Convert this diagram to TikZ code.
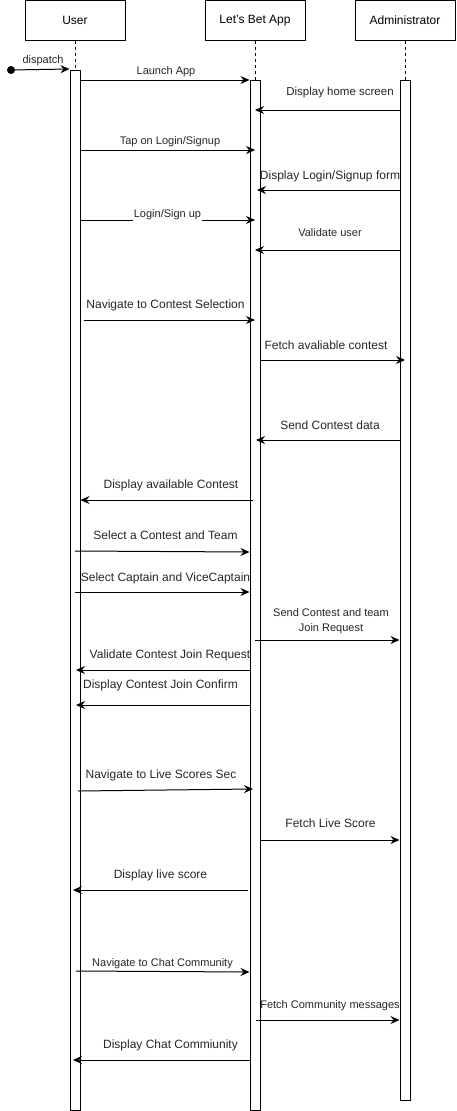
\documentclass[tikz,border=0pt]{standalone}
\usepackage{fontspec}
\setmainfont{Liberation Sans}
\usetikzlibrary{arrows.meta}

\begin{document}
\begin{tikzpicture}[
  x=1pt, y=-1pt, line width=1pt,
  actor/.style={draw, minimum width=100pt, minimum height=40pt, inner sep=0pt,
                font=\fontsize{12}{14}\selectfont},
  bar/.style={draw, fill=white, minimum width=10pt, inner sep=0pt},
  life/.style={dash pattern=on 3pt off 3pt},
  msg/.style={-{Stealth[length=9pt, width=8pt, inset=3pt]}},
  msgtext/.style={font=\fontsize{12}{14}\selectfont, inner sep=0pt, text=black!85},
  msgsmall/.style={font=\fontsize{11}{15.5}\selectfont, inner sep=0pt, align=center, text=black!85},
]
\useasboundingbox (0,0) rectangle (457,1111);

% Acteurs
\node[actor] (user)  at (75,20.5)  {User};
\node[actor] (app)   at (255,20.5) {Let's Bet App};
\node[actor] (admin) at (405,20.5) {Administrator};

% Barres d'activation
\node[bar, minimum height=1040pt] (ubar) at (75,590) {};
\node[bar, minimum height=1030pt] (abar) at (255,595) {};
\node[bar, minimum height=1020pt] (dbar) at (405,590) {};

% Lignes de vie
\draw[life] (user) -- (ubar);
\draw[life] (app)  -- (abar);
\draw[life] (admin) -- (dbar);

% Point de depart
\node[circle, fill, inner sep=0pt, minimum size=8pt] (start) at (11,70) {};
\draw[msg] (start.center) -- (ubar.west |- 0,69);

% Messages
\draw[msg] (ubar.east |- 0,80) -- (abar.west |- 0,80);
\draw[msg] (dbar.west |- 0,110) -- (abar.center |- 0,110);
\draw[msg] (ubar.east |- 0,150) -- (abar.center |- 0,150);
\draw[msg] (dbar.west |- 0,190) -- ([xshift=2pt]abar.center |- 0,190);
\draw[msg] (ubar.east |- 0,220) -- (abar.center |- 0,220);
\draw[msg] (dbar.west |- 0,250) -- (abar.center |- 0,250);
\draw[msg] ([xshift=3pt]ubar.east |- 0,320) -- (abar.center |- 0,320);
\draw[msg] (abar.east |- 0,360) -- (dbar.center |- 0,360);
\draw[msg] (dbar.west |- 0,440) -- ([xshift=1pt]abar.center |- 0,440);
\draw[msg] ([xshift=-2pt]abar.center |- 0,500) -- (ubar.east |- 0,500);
\draw[msg] (ubar.center |- 0,551) -- (abar.west |- 0,552);
\draw[msg] (ubar.center |- 0,592) -- (abar.west |- 0,592);
\draw[msg] (abar.center |- 0,640) -- (dbar.west |- 0,640);
\draw[msg] (abar.west |- 0,670) -- ([xshift=1pt]ubar.center |- 0,670);
\draw[msg] (abar.west |- 0,705) -- ([xshift=1pt]ubar.center |- 0,705);
\draw[msg] ([xshift=3pt]ubar.center |- 0,791) -- ([xshift=-2pt]abar.center |- 0,789);
\draw[msg] (abar.east |- 0,840) -- (dbar.west |- 0,840);
\draw[msg] ([xshift=-2pt]abar.west |- 0,890) -- ([xshift=-2pt]ubar.center |- 0,890);
\draw[msg] ([xshift=1pt]ubar.center |- 0,971) -- (abar.west |- 0,972);
\draw[msg] ([xshift=1pt]abar.center |- 0,1020) -- (dbar.west |- 0,1020);
\draw[msg] (abar.west |- 0,1060) -- ([xshift=-2pt]ubar.center |- 0,1060);

% Libelles
\node[msgsmall] (ldispatch) at (43,61)   {dispatch};
\node[msgsmall] (llaunch)   at (166,72)  {Launch App};
\node[msgsmall, font=\fontsize{11.5}{14}\selectfont] (lhome) at (340,93) {Display home screen};
\node[msgsmall] (ltap)      at (170,142) {Tap on Login/Signup};
\node[msgtext]  (lform)     at (330,176) {Display Login/Signup form};
\node[msgsmall, fill=white, inner ysep=1.5pt, inner xsep=0.5pt] (llogin) at (167.5,214.5) {Login/Sign up};
\node[msgsmall] (lvalid)    at (330,233) {Validate user};
\node[msgtext]  (lnavsel)   at (165.5,305) {Navigate to Contest Selection};
\node[msgtext]  (lfetch)    at (326,345) {Fetch avaliable contest};
\node[msgtext]  (lsend)     at (330,425) {Send Contest data};
\node[msgtext]  (lavail)    at (171,485) {Display available Contest};
\node[msgtext]  (lselteam)  at (165.5,535) {Select a Contest and Team};
\node[msgtext]  (lselcap)   at (165.5,578) {Select Captain and ViceCaptain};
\node[msgsmall] (ljoin)     at (331,621) {Send Contest and team\\Join Request};
\node[msgtext]  (lvaljoin)  at (170,655) {Validate Contest Join Request};
\node[msgtext]  (lconfirm)  at (160.5,685) {Display Contest Join Confirm};
\node[msgtext]  (lnavlive)  at (161,775) {Navigate to Live Scores Sec};
\node[msgtext]  (lfetchlive) at (330.5,823) {Fetch Live Score};
\node[msgtext]  (llive)     at (160.5,875) {Display live score};
\node[msgsmall] (lnavchat)  at (162.5,964) {Navigate to Chat Community};
\node[msgsmall] (lfetchchat) at (330,1006) {Fetch Community messages};
\node[msgtext]  (lchat)     at (170.5,1045) {Display Chat Commiunity};

\end{tikzpicture}
\end{document}
